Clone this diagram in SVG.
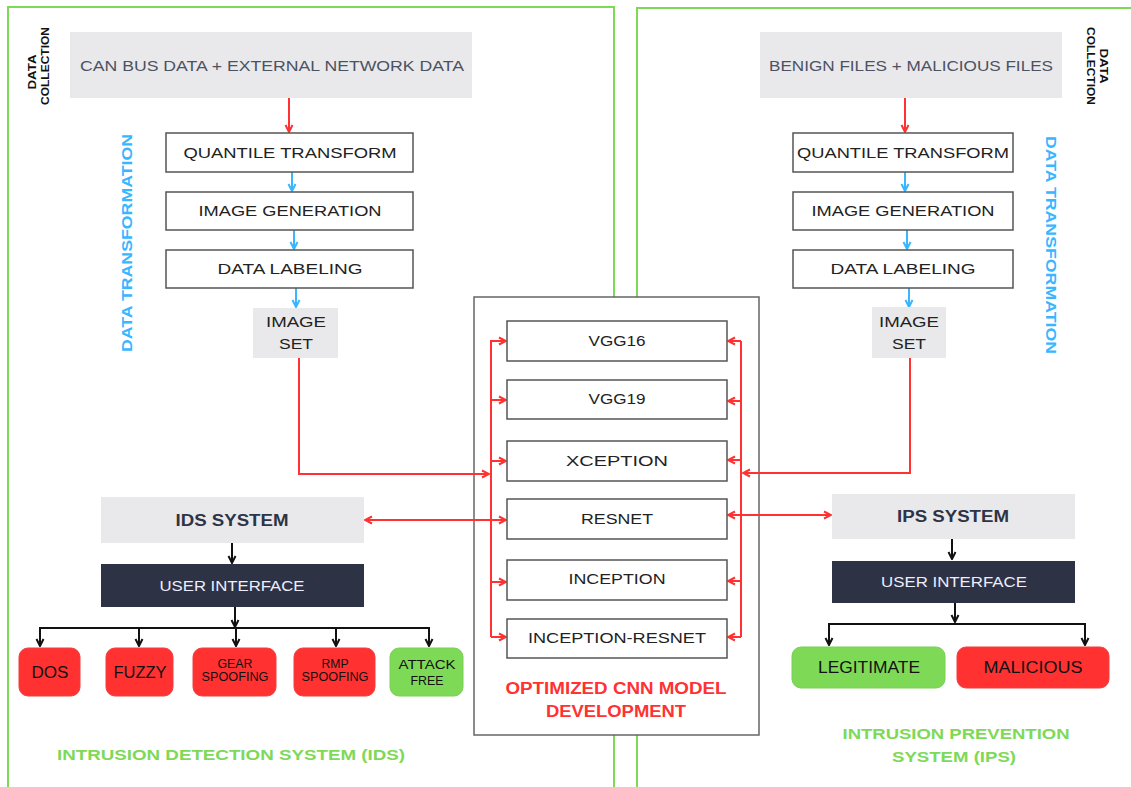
<svg xmlns="http://www.w3.org/2000/svg" width="1131" height="787" viewBox="0 0 1131 787">
<style>
text{font-family:"Liberation Sans",Arial,sans-serif;text-anchor:middle}
.box{fill:#fff;stroke:#555;stroke-width:1.5}
.gray{fill:#e9e9eb}
.lbl{font-size:14px;fill:#222}
.src{font-size:15px;fill:#4b5263}
.ttl{font-size:16px;font-weight:bold;fill:#2d3446}
.ui{fill:#2d3244}
.uit{font-size:15px;fill:#eef}
.red{fill:#ff3131;stroke:#f04040;stroke-width:1}
.grn{fill:#7ed957;stroke:#78cf55;stroke-width:1}
.leaf{font-size:16px;fill:#111}
.leafs{font-size:12px;fill:#111}
.gtitle{font-size:15px;font-weight:bold;fill:#7ed957}
.rtitle{font-size:16px;font-weight:bold;fill:#ff3131}
.btitle{font-size:15px;font-weight:bold;fill:#38b6ff}
.dc{font-size:11px;font-weight:bold;fill:#111}
.lr{fill:none;stroke:#ff3131;stroke-width:2}
.lb{fill:none;stroke:#38b6ff;stroke-width:2}
.lk{fill:none;stroke:#111;stroke-width:2}
</style>
<defs>
<marker id="mr" viewBox="0 0 10 10" refX="9" refY="5" markerWidth="10" markerHeight="10" orient="auto-start-reverse" markerUnits="userSpaceOnUse"><path d="M2,1.5 L9,5 L2,8.5" fill="none" stroke="#ff3131" stroke-width="2"/></marker>
<marker id="mb" viewBox="0 0 10 10" refX="9" refY="5" markerWidth="10" markerHeight="10" orient="auto-start-reverse" markerUnits="userSpaceOnUse"><path d="M2,1.5 L9,5 L2,8.5" fill="none" stroke="#38b6ff" stroke-width="2"/></marker>
<marker id="mk" viewBox="0 0 10 10" refX="9" refY="5" markerWidth="10" markerHeight="10" orient="auto-start-reverse" markerUnits="userSpaceOnUse"><path d="M2,1.5 L9,5 L2,8.5" fill="none" stroke="#111" stroke-width="2"/></marker>
</defs>
<rect width="1131" height="787" fill="#fff"/>
<g id="frames" fill="none" stroke="#7ed957" stroke-width="2">
<path d="M8,790 V7 H614 V790"/>
<path d="M637,790 V8 H1135"/>
</g>
<g id="cnn-container">
<rect x="474" y="297" width="285" height="438" fill="#fff" stroke="#666" stroke-width="1.5"/>
<text class="rtitle" x="616" y="694" textLength="221" lengthAdjust="spacingAndGlyphs">OPTIMIZED CNN MODEL</text>
<text class="rtitle" x="616" y="717" textLength="140" lengthAdjust="spacingAndGlyphs">DEVELOPMENT</text>
</g>
<g id="labels">
<text class="dc" transform="translate(36,72) rotate(-90)" textLength="35" lengthAdjust="spacingAndGlyphs">DATA</text>
<text class="dc" transform="translate(49,66) rotate(-90)" textLength="78" lengthAdjust="spacingAndGlyphs">COLLECTION</text>
<text class="dc" transform="translate(1100,66) rotate(90)" textLength="35" lengthAdjust="spacingAndGlyphs">DATA</text>
<text class="dc" transform="translate(1087,66) rotate(90)" textLength="78" lengthAdjust="spacingAndGlyphs">COLLECTION</text>
<text class="btitle" transform="translate(132,243) rotate(-90)" textLength="218" lengthAdjust="spacingAndGlyphs">DATA TRANSFORMATION</text>
<text class="btitle" transform="translate(1046,245) rotate(90)" textLength="218" lengthAdjust="spacingAndGlyphs">DATA TRANSFORMATION</text>
<text class="gtitle" x="231" y="760" textLength="348" lengthAdjust="spacingAndGlyphs">INTRUSION DETECTION SYSTEM (IDS)</text>
<text class="gtitle" x="956" y="739" textLength="227" lengthAdjust="spacingAndGlyphs">INTRUSION PREVENTION</text>
<text class="gtitle" x="954" y="762" textLength="124" lengthAdjust="spacingAndGlyphs">SYSTEM (IPS)</text>
</g>
<g id="connectors">
<path class="lr" d="M289,98 V132" marker-end="url(#mr)"/>
<path class="lb" d="M292,172 V191" marker-end="url(#mb)"/>
<path class="lb" d="M294,230 V249" marker-end="url(#mb)"/>
<path class="lb" d="M296,288 V307" marker-end="url(#mb)"/>
<path class="lr" d="M299,358 V474 H489" marker-end="url(#mr)"/>
<path class="lr" d="M491,340 V637"/>
<path class="lr" d="M491,341 H506" marker-end="url(#mr)"/>
<path class="lr" d="M491,400 H506" marker-end="url(#mr)"/>
<path class="lr" d="M491,461 H506" marker-end="url(#mr)"/>
<path class="lr" d="M491,582 H506" marker-end="url(#mr)"/>
<path class="lr" d="M491,637 H506" marker-end="url(#mr)"/>
<path class="lr" d="M365,520 H506" marker-start="url(#mr)" marker-end="url(#mr)"/>
<path class="lr" d="M905,98 V132" marker-end="url(#mr)"/>
<path class="lb" d="M905,172 V191" marker-end="url(#mb)"/>
<path class="lb" d="M907,230 V249" marker-end="url(#mb)"/>
<path class="lb" d="M909,288 V307" marker-end="url(#mb)"/>
<path class="lr" d="M910,358 V473 H743" marker-end="url(#mr)"/>
<path class="lr" d="M741,341 V637"/>
<path class="lr" d="M741,341 H728" marker-end="url(#mr)"/>
<path class="lr" d="M741,401 H728" marker-end="url(#mr)"/>
<path class="lr" d="M741,460 H728" marker-end="url(#mr)"/>
<path class="lr" d="M741,581 H728" marker-end="url(#mr)"/>
<path class="lr" d="M741,637 H728" marker-end="url(#mr)"/>
<path class="lr" d="M728,515 H831" marker-start="url(#mr)" marker-end="url(#mr)"/>
<path class="lk" d="M232,543 V563" marker-end="url(#mk)"/>
<path class="lk" d="M235,607 V627" marker-end="url(#mk)"/>
<path class="lk" d="M40,646 V628 H429 V646" marker-start="url(#mk)" marker-end="url(#mk)"/>
<path class="lk" d="M139,628 V646" marker-end="url(#mk)"/>
<path class="lk" d="M236,628 V646" marker-end="url(#mk)"/>
<path class="lk" d="M336,628 V646" marker-end="url(#mk)"/>
<path class="lk" d="M952,539 V559" marker-end="url(#mk)"/>
<path class="lk" d="M955,603 V622" marker-end="url(#mk)"/>
<path class="lk" d="M829,645 V624 H1085 V645" marker-start="url(#mk)" marker-end="url(#mk)"/>
</g>
<g id="can-bus"><rect class="gray" x="70" y="32" width="402" height="66"/><text class="src" x="272" y="71" textLength="384" lengthAdjust="spacingAndGlyphs">CAN BUS DATA + EXTERNAL NETWORK DATA</text></g>
<g id="l-quantile"><rect class="box" x="166" y="133" width="247" height="39"/><text class="lbl" x="290" y="158" textLength="213" lengthAdjust="spacingAndGlyphs">QUANTILE TRANSFORM</text></g>
<g id="l-imagegen"><rect class="box" x="166" y="192" width="247" height="38"/><text class="lbl" x="290" y="216" textLength="183" lengthAdjust="spacingAndGlyphs">IMAGE GENERATION</text></g>
<g id="l-labeling"><rect class="box" x="166" y="250" width="247" height="38"/><text class="lbl" x="290" y="274" textLength="145" lengthAdjust="spacingAndGlyphs">DATA LABELING</text></g>
<g id="l-imageset"><rect class="gray" x="253" y="308" width="85" height="50"/><text class="lbl" x="296" y="327" textLength="60" lengthAdjust="spacingAndGlyphs">IMAGE</text><text class="lbl" x="296" y="349" textLength="34" lengthAdjust="spacingAndGlyphs">SET</text></g>
<g id="benign"><rect class="gray" x="760" y="32" width="302" height="66"/><text class="src" x="911" y="71" textLength="284" lengthAdjust="spacingAndGlyphs">BENIGN FILES + MALICIOUS FILES</text></g>
<g id="r-quantile"><rect class="box" x="793" y="133" width="220" height="39"/><text class="lbl" x="903" y="158" textLength="212" lengthAdjust="spacingAndGlyphs">QUANTILE TRANSFORM</text></g>
<g id="r-imagegen"><rect class="box" x="793" y="192" width="220" height="38"/><text class="lbl" x="903" y="216" textLength="183" lengthAdjust="spacingAndGlyphs">IMAGE GENERATION</text></g>
<g id="r-labeling"><rect class="box" x="793" y="250" width="220" height="38"/><text class="lbl" x="903" y="274" textLength="145" lengthAdjust="spacingAndGlyphs">DATA LABELING</text></g>
<g id="r-imageset"><rect class="gray" x="872" y="307" width="74" height="51"/><text class="lbl" x="909" y="327" textLength="60" lengthAdjust="spacingAndGlyphs">IMAGE</text><text class="lbl" x="909" y="349" textLength="34" lengthAdjust="spacingAndGlyphs">SET</text></g>
<g id="vgg16"><rect class="box" x="507" y="321" width="220" height="40"/><text class="lbl" x="617" y="346" textLength="57" lengthAdjust="spacingAndGlyphs">VGG16</text></g>
<g id="vgg19"><rect class="box" x="507" y="380" width="220" height="39"/><text class="lbl" x="617" y="404" textLength="57" lengthAdjust="spacingAndGlyphs">VGG19</text></g>
<g id="xception"><rect class="box" x="507" y="441" width="220" height="40"/><text class="lbl" x="617" y="466" textLength="102" lengthAdjust="spacingAndGlyphs">XCEPTION</text></g>
<g id="resnet"><rect class="box" x="507" y="499" width="220" height="40"/><text class="lbl" x="617" y="524" textLength="72" lengthAdjust="spacingAndGlyphs">RESNET</text></g>
<g id="inception"><rect class="box" x="507" y="560" width="220" height="40"/><text class="lbl" x="617" y="584" textLength="97" lengthAdjust="spacingAndGlyphs">INCEPTION</text></g>
<g id="inception-resnet"><rect class="box" x="507" y="619" width="220" height="39"/><text class="lbl" x="617" y="643" textLength="178" lengthAdjust="spacingAndGlyphs">INCEPTION-RESNET</text></g>
<g id="ids"><rect class="gray" x="101" y="497" width="263" height="46"/><text class="ttl" x="232" y="526" textLength="113" lengthAdjust="spacingAndGlyphs">IDS SYSTEM</text></g>
<g id="ids-ui"><rect class="ui" x="101" y="564" width="263" height="43"/><text class="uit" x="232" y="591" textLength="145" lengthAdjust="spacingAndGlyphs">USER INTERFACE</text></g>
<g id="dos"><rect class="red" x="19" y="648" width="61" height="48" rx="9"/><text class="leaf" x="50" y="678" textLength="37" lengthAdjust="spacingAndGlyphs">DOS</text></g>
<g id="fuzzy"><rect class="red" x="106" y="648" width="67" height="48" rx="9"/><text class="leaf" x="140" y="678" textLength="53" lengthAdjust="spacingAndGlyphs">FUZZY</text></g>
<g id="gear"><rect class="red" x="193" y="648" width="83" height="48" rx="9"/><text class="leafs" x="235" y="668" textLength="35" lengthAdjust="spacingAndGlyphs">GEAR</text><text class="leafs" x="235" y="681" textLength="67" lengthAdjust="spacingAndGlyphs">SPOOFING</text></g>
<g id="rmp"><rect class="red" x="294" y="648" width="81" height="48" rx="9"/><text class="leafs" x="335" y="668" textLength="27" lengthAdjust="spacingAndGlyphs">RMP</text><text class="leafs" x="335" y="681" textLength="67" lengthAdjust="spacingAndGlyphs">SPOOFING</text></g>
<g id="attack-free"><rect class="grn" x="390" y="648" width="73" height="48" rx="9"/><text class="leafs" x="427" y="669" style="font-size:13px" textLength="57" lengthAdjust="spacingAndGlyphs">ATTACK</text><text class="leafs" x="427" y="685" style="font-size:13px" textLength="33" lengthAdjust="spacingAndGlyphs">FREE</text></g>
<g id="ips"><rect class="gray" x="832" y="494" width="243" height="45"/><text class="ttl" x="953" y="522" textLength="112" lengthAdjust="spacingAndGlyphs">IPS SYSTEM</text></g>
<g id="ips-ui"><rect class="ui" x="832" y="561" width="243" height="42"/><text class="uit" x="954" y="587" textLength="146" lengthAdjust="spacingAndGlyphs">USER INTERFACE</text></g>
<g id="legitimate"><rect class="grn" x="792" y="647" width="153" height="41" rx="9"/><text class="leaf" x="869" y="673" textLength="102" lengthAdjust="spacingAndGlyphs">LEGITIMATE</text></g>
<g id="malicious"><rect class="red" x="957" y="647" width="152" height="41" rx="9"/><text class="leaf" x="1033" y="673" textLength="99" lengthAdjust="spacingAndGlyphs">MALICIOUS</text></g>
</svg>
